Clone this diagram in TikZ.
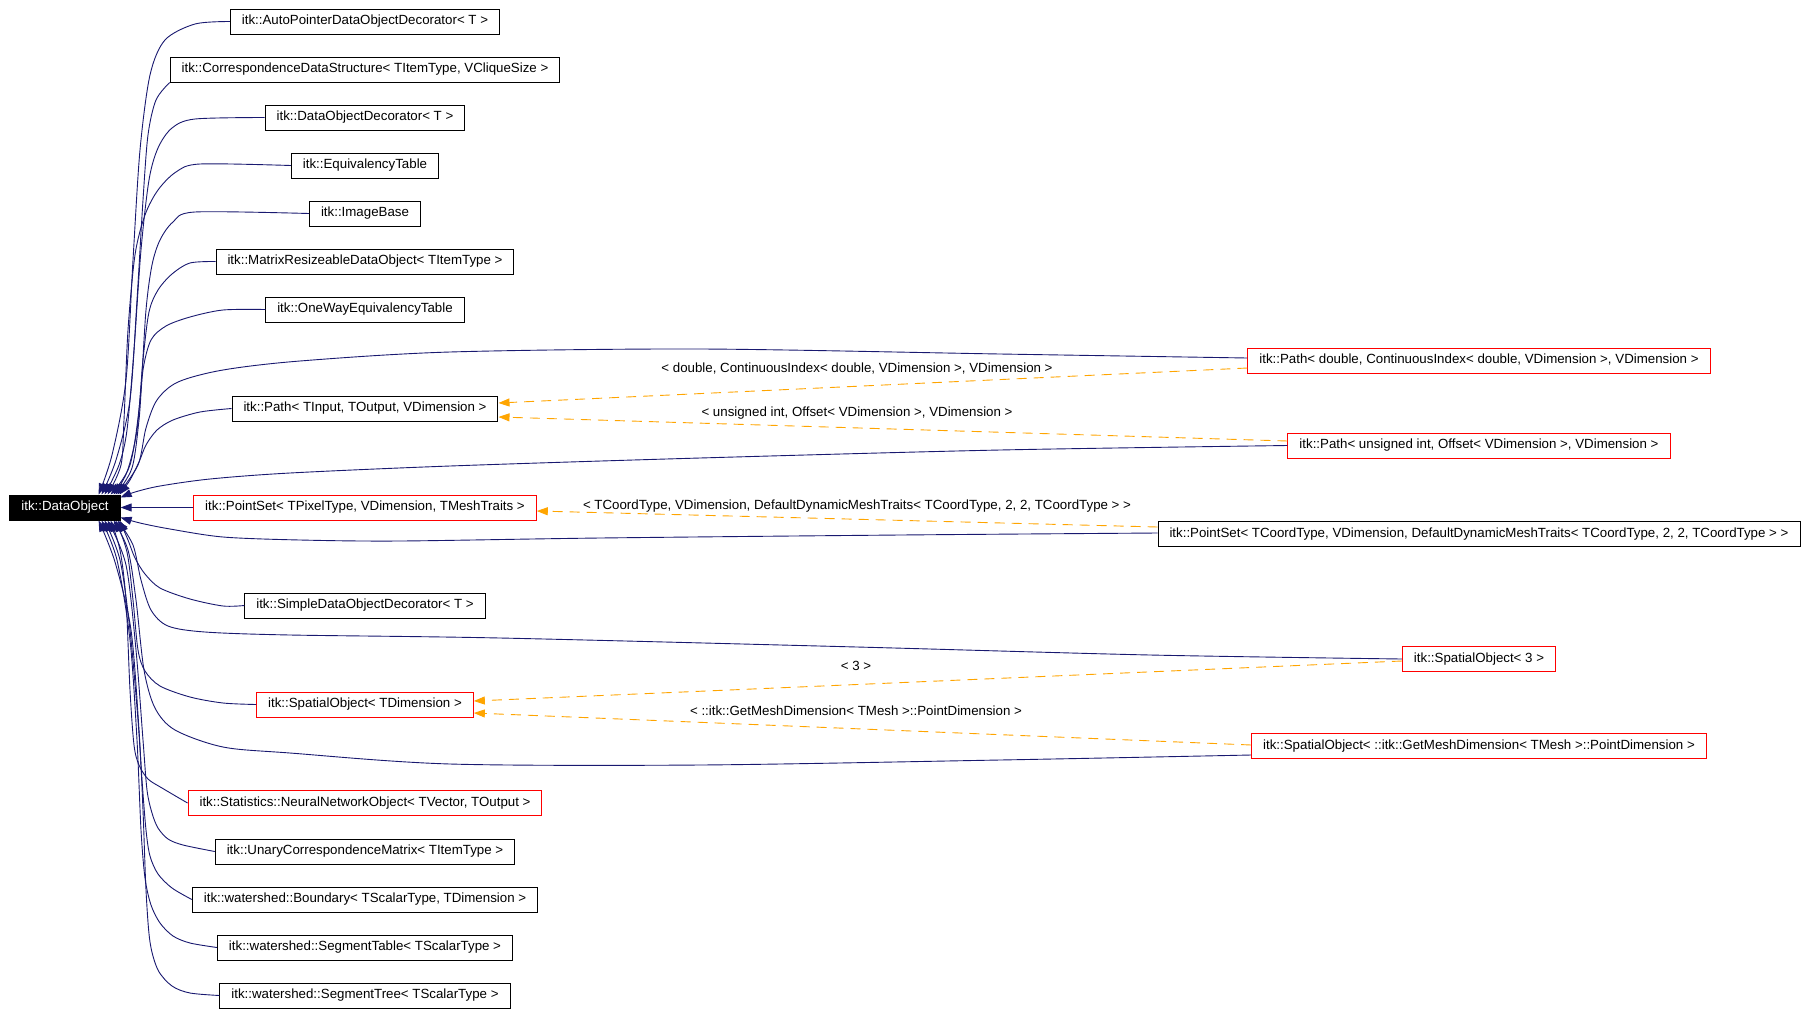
\documentclass[tikz,border=0pt]{standalone}
\usepackage{fontspec}
\setmainfont{Liberation Sans}
\usetikzlibrary{arrows.meta,calc}
\definecolor{edgeblue}{HTML}{191970}
\definecolor{dashorange}{HTML}{FFA500}
\begin{document}
\begin{tikzpicture}[x=1pt,y=-1pt,
  cls/.style={draw=black, line width=1pt, rectangle, minimum height=25pt, inner xsep=11.5pt, inner ysep=0pt,
    text height=9.7pt, text depth=2.8pt, font=\fontsize{13.3}{15}\selectfont},
  redcls/.style={cls, draw=red},
  inh/.style={draw=edgeblue, line width=0.9pt, -{Triangle[length=11pt,width=8pt]}},
  tmpl/.style={draw=dashorange, line width=0.9pt, dash pattern=on 10pt off 7pt, -{Triangle[length=11pt,width=8pt]}},
  lbl/.style={font=\fontsize{13.3}{15}\selectfont, inner sep=0pt, text height=9.7pt, text depth=2.8pt}
]
\useasboundingbox (0,0) rectangle (1807,1015);
\fill[white] (0,0) rectangle (1807,1015);

% base
\node[cls, fill=black, text=white, minimum width=110pt] (d) at (65,507.5) {itk::DataObject};

% left column
\node[cls] (c1) at (365,21.5) {itk::AutoPointerDataObjectDecorator< T >};
\node[cls] (c2) at (365,69.5) {itk::CorrespondenceDataStructure< TItemType, VCliqueSize >};
\node[cls] (c3) at (365,117.5) {itk::DataObjectDecorator< T >};
\node[cls] (c4) at (365,165.5) {itk::EquivalencyTable};
\node[cls] (c5) at (365,213.5) {itk::ImageBase};
\node[cls] (c6) at (365,261.5) {itk::MatrixResizeableDataObject< TItemType >};
\node[cls] (c7) at (365,309.5) {itk::OneWayEquivalencyTable};
\node[cls] (c8) at (365,408.5) {itk::Path< TInput, TOutput, VDimension >};
\node[redcls] (c9) at (365,507.5) {itk::PointSet< TPixelType, VDimension, TMeshTraits >};
\node[cls] (c10) at (365,605.5) {itk::SimpleDataObjectDecorator< T >};
\node[redcls] (c11) at (365,704.5) {itk::SpatialObject< TDimension >};
\node[redcls] (c12) at (365,803) {itk::Statistics::NeuralNetworkObject< TVector, TOutput >};
\node[cls] (c13) at (365,851.5) {itk::UnaryCorrespondenceMatrix< TItemType >};
\node[cls] (c14) at (365,899.5) {itk::watershed::Boundary< TScalarType, TDimension >};
\node[cls] (c15) at (365,947.5) {itk::watershed::SegmentTable< TScalarType >};
\node[cls] (c16) at (365,995.5) {itk::watershed::SegmentTree< TScalarType >};

% right column
\node[redcls] (r1) at (1479,360.5) {itk::Path< double, ContinuousIndex< double, VDimension >, VDimension >};
\node[redcls] (r2) at (1479,445.5) {itk::Path< unsigned int, Offset< VDimension >, VDimension >};
\node[cls] (r3) at (1479,534) {itk::PointSet< TCoordType, VDimension, DefaultDynamicMeshTraits< TCoordType, 2, 2, TCoordType > >};
\node[redcls] (r4) at (1479,659) {itk::SpatialObject< 3 >};
\node[redcls] (r5) at (1479,746) {itk::SpatialObject< ::itk::GetMeshDimension< TMesh >::PointDimension >};

% arrow end points on the base class
\coordinate (t1) at ($(d.north east)+(-22,0)$);
\coordinate (t2) at ($(d.north east)+(-19,0)$);
\coordinate (t3) at ($(d.north east)+(-16,0)$);
\coordinate (t4) at ($(d.north east)+(-13,0)$);
\coordinate (t5) at ($(d.north east)+(-10,0)$);
\coordinate (t6) at ($(d.north east)+(-7,0)$);
\coordinate (t7) at ($(d.north east)+(-5,0)$);
\coordinate (t8) at ($(d.north east)+(-3,0)$);
\coordinate (t9) at ($(d.north east)+(-1,0)$);
\coordinate (t10) at ($(d.north east)+(0,3)$);
\coordinate (b1) at ($(d.south east)+(0,-3)$);
\coordinate (b2) at ($(d.south east)+(-1,0)$);
\coordinate (b3) at ($(d.south east)+(-3,0)$);
\coordinate (b4) at ($(d.south east)+(-5,0)$);
\coordinate (b5) at ($(d.south east)+(-7,0)$);
\coordinate (b6) at ($(d.south east)+(-10,0)$);
\coordinate (b7) at ($(d.south east)+(-13,0)$);
\coordinate (b8) at ($(d.south east)+(-16,0)$);
\coordinate (b9) at ($(d.south east)+(-19,0)$);
\coordinate (b10) at ($(d.south east)+(-22,0)$);

% inheritance edges (navy)
\draw[inh] plot[smooth] coordinates {(c1.west) (195,24) (165,40) (150,75) (140,150) (133,260) (126,380) (112,455) (t1)};
\draw[inh] plot[smooth] coordinates {(c2.south west) (156,100) (148,135) (143,200) (137,300) (130,400) (116,460) (t2)};
\draw[inh] plot[smooth] coordinates {(c3.west) (195,119) (172,128) (158,148) (149,180) (141,250) (134,350) (127,430) (119,465) (t3)};
\draw[inh] plot[smooth] coordinates {(c4.west) (200,164) (176,172) (158,190) (145,215) (135,255) (128,330) (124,420) (121,465) (t4)};
\draw[inh] plot[smooth] coordinates {(c5.west) (195,212) (173,222) (160,240) (152,265) (146,310) (140,400) (130,465) (t5)};
\draw[inh] plot[smooth] coordinates {(c6.west) (190,263) (172,274) (158,290) (149,312) (143,360) (137,430) (127,472) (t6)};
\draw[inh] plot[smooth] coordinates {(c7.west) (223,310) (190,317) (166,326) (151,340) (143,370) (139,420) (132,468) (t7)};
\draw[inh] plot[smooth] coordinates {($(r1.west)+(0,-2.5)$) (1000,354) (700,349) (450,352) (300,361) (223,370) (178,382) (157,400) (146,428) (138,465) (t8)};
\draw[inh] plot[smooth] coordinates {(c8.west) (200,412) (173,420) (157,430) (146,445) (139,462) (130,480) (t9)};
\draw[inh] plot[smooth] coordinates {(r2.west) (1000,450) (700,458) (450,466) (290,473) (210,479) (160,486) (135,492) (t10)};
\draw[inh] (c9.west) -- (d.east);
\draw[inh] plot[smooth] coordinates {($(r3.west)+(0,-1)$) (900,535) (600,538) (400,541) (300,540) (223,537) (170,529) (140,523) (b1)};
\draw[inh] plot[smooth] coordinates {(c10.west) (223,606) (190,599) (160,588) (145,574) (135,558) (128,540) (b2)};
\draw[inh] plot[smooth] coordinates {(r4.west) (1150,655) (857,647) (500,638) (290,635) (205,632) (168,626) (151,610) (141,580) (133,545) (b3)};
\draw[inh] plot[smooth] coordinates {(c11.west) (223,703) (190,697) (160,686) (145,671) (138,650) (133,600) (127,552) (b4)};
\draw[inh] plot[smooth] coordinates {($(r5.west)+(0,9)$) (1000,760) (700,765) (450,764) (290,753) (223,747) (175,730) (155,708) (144,670) (136,600) (128,550) (b5)};
\draw[inh] plot[smooth] coordinates {(c12.west) (162,788) (148,779) (139,765) (134,745) (130,690) (126,600) (120,550) (b6)};
\draw[inh] plot[smooth] coordinates {(c13.west) (183,845) (168,839) (158,828) (152,813) (147,790) (143,740) (136,650) (126,565) (b7)};
\draw[inh] plot[smooth] coordinates {(c14.west) (172,888) (158,874) (150,856) (146,830) (142,780) (138,720) (130,630) (120,560) (b8)};
\draw[inh] plot[smooth] coordinates {(c15.west) (190,943) (173,936) (160,923) (151,905) (145,878) (141,830) (137,740) (130,640) (117,560) (b9)};
\draw[inh] plot[smooth] coordinates {(c16.west) (190,993) (172,986) (158,970) (150,942) (146,890) (143,810) (139,730) (131,630) (115,562) (b10)};

% template instantiation edges (orange, dashed)
\draw[tmpl] ($(r1.west)+(0,7.5)$) -- ($(c8.east)+(0,-5.5)$);
\draw[tmpl] ($(r2.west)+(0,-4.5)$) -- ($(c8.east)+(0,8.5)$);
\draw[tmpl] ($(r3.west)+(0,-7)$) -- ($(c9.east)+(0,3.5)$);
\draw[tmpl] ($(r4.west)+(0,2)$) -- ($(c11.east)+(0,-3.5)$);
\draw[tmpl] ($(r5.west)+(0,-1)$) -- ($(c11.east)+(0,8.5)$);

\node[lbl] (l1) at (857,369) {< double, ContinuousIndex< double, VDimension >, VDimension >};
\node[lbl] (l2) at (857,413) {< unsigned int, Offset< VDimension >, VDimension >};
\node[lbl] (l3) at (857,506) {< TCoordType, VDimension, DefaultDynamicMeshTraits< TCoordType, 2, 2, TCoordType > >};
\node[lbl] (l4) at (856,667) {< 3 >};
\node[lbl] (l5) at (856,712) {< ::itk::GetMeshDimension< TMesh >::PointDimension >};
\end{tikzpicture}
\end{document}
